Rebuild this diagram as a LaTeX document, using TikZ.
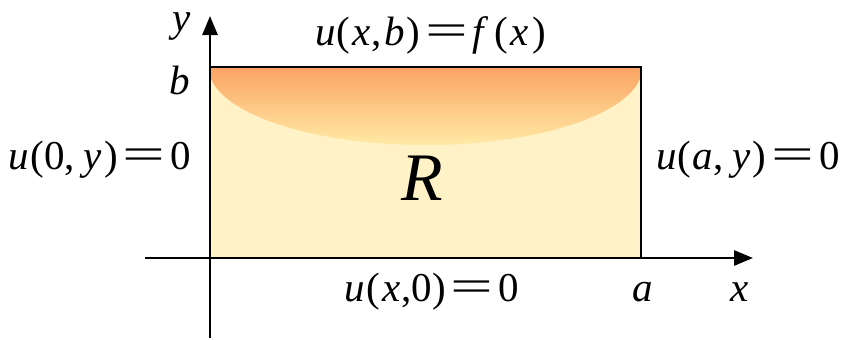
\documentclass[tikz,border=0pt]{standalone}
\usepackage{fontspec}
\setmainfont{Liberation Serif}
\usetikzlibrary{arrows.meta}
\definecolor{regfill}{HTML}{FEF2C6}
\definecolor{topor}{HTML}{FCA363}
\definecolor{botye}{HTML}{FFEBA6}
\tikzset{
  lbl/.style={inner sep=0pt, font=\fontsize{41}{43}\selectfont},
  axis/.style={line width=2.8pt, -{Triangle[length=19pt,width=15pt]}},
  edge/.style={line width=2.8pt}
}
\newcommand{\bigeq}{\kern5pt\scalebox{1.85}[1.1]{=}\kern5pt}
\newcommand{\ii}[1]{\textit{#1}}
\begin{document}
\begin{tikzpicture}[x=1pt,y=-1pt]
\useasboundingbox (0,0) rectangle (846,340);
\coordinate (O) at (210,258);
\coordinate (A) at (641,258);
\coordinate (B) at (210,67);
\coordinate (C) at (641,67);
\fill[regfill] (O) rectangle (C);
\begin{scope}
  \clip (O) rectangle (C);
  \clip (425.5,67) ellipse [x radius=217, y radius=78];
  \shade[top color=topor, bottom color=botye] (210,67) rectangle (641,146);
\end{scope}
\draw[edge] (A) -- (C) -- (B);
\coordinate (xs) at (145,258);
\coordinate (xe) at (753,258);
\coordinate (ys) at (210,338);
\coordinate (ye) at (210,16);
\draw[axis] (xs) -- (xe);
\draw[axis] (ys) -- (ye);
\node[lbl] (ylab) at (182,27) {\ii{y}};
\node[lbl] (xlab) at (740,292) {\ii{x}};
\node[lbl] (blab) at (180,80) {\ii{b}};
\node[lbl] (alab) at (643,292) {\ii{a}};
\node[lbl] (top) at (431,35) {\ii{u}\kern1pt(\kern2pt\ii{x}\kern1pt,\kern2pt\ii{b}\kern2pt)\bigeq\ii{f}\kern5pt(\kern3pt\ii{x}\kern4pt)};
\node[lbl] (bot) at (432,292) {\ii{u}\kern1pt(\kern2pt\ii{x}\kern1pt,0)\bigeq0};
\node[lbl] (left) at (100,160) {\ii{u}\kern1pt(0,\kern9pt\ii{y}\kern2pt)\bigeq0};
\node[lbl] (right) at (748,160) {\ii{u}\kern1pt(\kern1pt\ii{a},\kern9pt\ii{y}\kern2pt)\bigeq0};
\node[inner sep=0pt, font=\fontsize{68}{70}\selectfont] (R) at (422,178) {\ii{R}};
\end{tikzpicture}
\end{document}
